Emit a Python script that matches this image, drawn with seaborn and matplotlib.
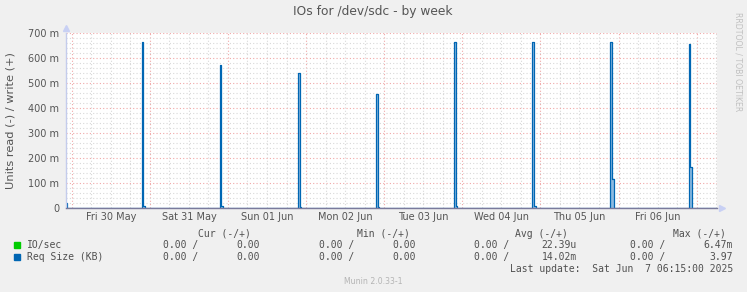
import pandas as pd
import seaborn as sns
import matplotlib.pyplot as plt
import matplotlib.dates as mdates
from matplotlib.ticker import FuncFormatter, MultipleLocator

# Daily Req Size bursts (values in milli-units)
spike_days = ["2025-05-30", "2025-05-31", "2025-06-01", "2025-06-02",
              "2025-06-03", "2025-06-04", "2025-06-05", "2025-06-06"]
spike_vals = [665, 572, 542, 458, 665, 665, 665, 655]
tail_vals = [8, 8, 6, 6, 8, 8, 116, 165]
start_val = 19

t_start = pd.Timestamp("2025-05-29 22:15")
t_end = pd.Timestamp("2025-06-07 06:15")

# 30 minute samples, zero except the bursts
times = pd.date_range("2025-05-29 22:00", "2025-06-07 06:30", freq="30min")
df = pd.DataFrame({"time": times, "req": 0.0})
df.loc[df["time"] == pd.Timestamp("2025-05-29 22:00"), "req"] = start_val
for d, v, t in zip(spike_days, spike_vals, tail_vals):
    df.loc[df["time"] == pd.Timestamp(d + " 21:30"), "req"] = v
    df.loc[df["time"] == pd.Timestamp(d + " 22:00"), "req"] = t

W, H = 747, 292
fig = plt.figure(figsize=(W / 100, H / 100), dpi=100, facecolor="#F0F0F0")
ax = fig.add_axes([66 / W, 84 / H, 651 / W, 175 / H])
ax.set_facecolor("#FFFFFF")

ax.fill_between(df["time"], df["req"], step="post", color="#8dbae0", lw=0)
sns.lineplot(data=df, x="time", y="req", ax=ax, color="#0066B3", lw=0.9,
             drawstyle="steps-post", estimator=None)

ax.set_xlim(t_start, t_end)
ax.set_ylim(0, 700)

# grid
ax.yaxis.set_major_locator(MultipleLocator(100))
ax.yaxis.set_minor_locator(MultipleLocator(20))
ax.yaxis.set_major_formatter(FuncFormatter(lambda v, p: "0" if v == 0 else f"{int(v)} m"))
ax.xaxis.set_major_locator(mdates.DayLocator())
ax.xaxis.set_minor_locator(mdates.HourLocator(byhour=[0, 6, 12, 18]))
ax.xaxis.set_major_formatter(FuncFormatter(lambda v, p: ""))
ax.xaxis.set_minor_formatter(FuncFormatter(
    lambda v, p: mdates.num2date(v).strftime("%a %d %b") if mdates.num2date(v).hour == 12 else ""))
ax.grid(which="minor", color="#d8d8d8", linestyle=(0, (1, 2)), lw=0.8)
ax.grid(which="major", color="#f0a8a8", linestyle=(0, (1, 2)), lw=0.8)
ax.set_axisbelow(True)
ax.tick_params(which="both", length=0, labelsize=7, colors="#555555")
ax.tick_params(axis="y", pad=5)
ax.tick_params(axis="x", which="minor", pad=3)

ax.set_xlabel("")
ax.set_ylabel("Units read (-) / write (+)", fontsize=8.2, color="#555555")
ax.yaxis.set_label_coords(-50 / 651, 0.5)

for s in ["top", "right"]:
    ax.spines[s].set_visible(False)
ax.spines["left"].set_color("#c4ccec")
ax.spines["bottom"].set_color("#7a7a9c")
ax.spines["left"].set_linewidth(1)
ax.spines["bottom"].set_linewidth(1)
ax.plot(1.008, 0, marker=">", ms=5, color="#c8d0f4", transform=ax.transAxes, clip_on=False)
ax.plot(0, 1.03, marker="^", ms=5, color="#c8d0f4", transform=ax.transAxes, clip_on=False)


def ftext(x, y, s, **kw):
    fig.text(x / W, 1 - y / H, s, **kw)


ftext(373, 12, "IOs for /dev/sdc - by week", ha="center", va="center",
      fontsize=8.8, color="#555555")
ftext(738, 62, "RRDTOOL / TOBI OETIKER", ha="center", va="center", rotation=270,
      fontsize=5.6, color="#c0c0c0")

mono = dict(family="DejaVu Sans Mono", fontsize=7, color="#505050", va="center")
ftext(198, 234, "Cur (-/+)", **mono)
ftext(356.7, 234, "Min (-/+)", **mono)
ftext(515, 234, "Avg (-/+)", **mono)
ftext(673.3, 234, "Max (-/+)", **mono)

rows = [
    ("IO/sec", "#00CC00", ["0.00 /", "0.00", "0.00 /", "0.00", "0.00 /", "22.39u", "0.00 /", "6.47m"], 245.3),
    ("Req Size (KB)", "#0066B3", ["0.00 /", "0.00", "0.00 /", "0.00", "0.00 /", "14.02m", "0.00 /", "3.97"], 257.3),
]
col_x = [162.7, 236.7, 318.7, 392.7, 474.3, 541.7, 630]
for label, color, vals, y in rows:
    fig.patches.append(plt.Rectangle((14 / W, 1 - (y + 2.5) / H), 5.5 / W, 5.5 / H,
                                     transform=fig.transFigure, color=color))
    ftext(26.7, y, label, **mono)
    for x, v in zip(col_x, vals[:-1]):
        ftext(x, y, v, **mono)
    ftext(733, y, vals[-1], ha="right", **mono)

ftext(733, 269.5, "Last update:  Sat Jun  7 06:15:00 2025", ha="right", **mono)
ftext(373, 282, "Munin 2.0.33-1", ha="center", va="center", fontsize=5.6, color="#b4b4b4")

plt.savefig("out.png", dpi=100, facecolor=fig.get_facecolor())
